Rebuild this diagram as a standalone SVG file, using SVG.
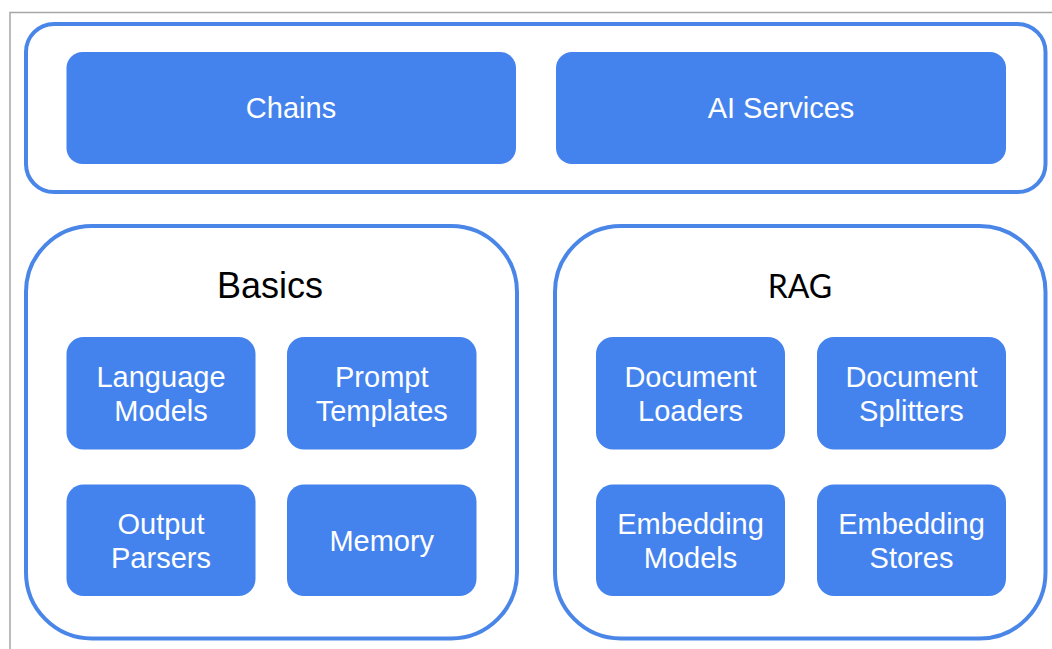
<svg xmlns="http://www.w3.org/2000/svg" width="1052" height="649" viewBox="0 0 1052 649">
  <style>
    .frame { fill: none; stroke: #a6a6a6; stroke-width: 1.5; }
    .group { fill: #ffffff; stroke: #4a86e8; stroke-width: 4; }
    .box { fill: #4483ee; stroke: none; }
    .label { font-family: "Liberation Sans", Arial, sans-serif; font-size: 29px; fill: #ffffff; text-anchor: middle; }
    .title { font-family: "Liberation Sans", Arial, sans-serif; font-size: 36px; fill: #000000; text-anchor: middle; }
    .title2 { font-family: Lato, "Liberation Sans", sans-serif; font-size: 32px; fill: #000000; text-anchor: middle; }
  </style>
  <rect width="1052" height="649" fill="#ffffff"/>
  <path class="frame" d="M10,660 L10,12.5 L1060,12.5"/>

  <g id="top-group">
    <rect class="group" x="26" y="24" width="1019.5" height="168" rx="28" ry="28"/>
  </g>
  <g id="chains">
    <rect class="box" x="66.5" y="52" width="449.5" height="112" rx="16" ry="16"/>
    <text class="label" x="291" y="117.5">Chains</text>
  </g>
  <g id="ai-services">
    <rect class="box" x="556" y="52" width="450" height="112" rx="16" ry="16"/>
    <text class="label" x="781" y="117.5">AI Services</text>
  </g>

  <g id="basics">
    <rect class="group" x="26" y="226" width="491" height="412.5" rx="66" ry="66"/>
    <text class="title" x="270" y="298">Basics</text>
  </g>
  <g id="language-models">
    <rect class="box" x="66.5" y="337" width="189" height="112.5" rx="17" ry="17"/>
    <text class="label" x="161" y="386.5">Language</text>
    <text class="label" x="161" y="420.5">Models</text>
  </g>
  <g id="prompt-templates">
    <rect class="box" x="287" y="337" width="189.5" height="112.5" rx="17" ry="17"/>
    <text class="label" x="381.75" y="386.5">Prompt</text>
    <text class="label" x="381.75" y="420.5">Templates</text>
  </g>
  <g id="output-parsers">
    <rect class="box" x="66.5" y="484.5" width="189" height="111.5" rx="17" ry="17"/>
    <text class="label" x="161" y="533.5">Output</text>
    <text class="label" x="161" y="567.5">Parsers</text>
  </g>
  <g id="memory">
    <rect class="box" x="287" y="484.5" width="189.5" height="111.5" rx="17" ry="17"/>
    <text class="label" x="381.75" y="550.5">Memory</text>
  </g>

  <g id="rag">
    <rect class="group" x="555" y="226" width="490.5" height="412.5" rx="66" ry="66"/>
    <text class="title2" x="800" y="298">RAG</text>
  </g>
  <g id="document-loaders">
    <rect class="box" x="596" y="337" width="189" height="112.5" rx="17" ry="17"/>
    <text class="label" x="690.5" y="386.5">Document</text>
    <text class="label" x="690.5" y="420.5">Loaders</text>
  </g>
  <g id="document-splitters">
    <rect class="box" x="817" y="337" width="189" height="112.5" rx="17" ry="17"/>
    <text class="label" x="911.5" y="386.5">Document</text>
    <text class="label" x="911.5" y="420.5">Splitters</text>
  </g>
  <g id="embedding-models">
    <rect class="box" x="596" y="484.5" width="189" height="111.5" rx="17" ry="17"/>
    <text class="label" x="690.5" y="533.5">Embedding</text>
    <text class="label" x="690.5" y="567.5">Models</text>
  </g>
  <g id="embedding-stores">
    <rect class="box" x="817" y="484.5" width="189" height="111.5" rx="17" ry="17"/>
    <text class="label" x="911.5" y="533.5">Embedding</text>
    <text class="label" x="911.5" y="567.5">Stores</text>
  </g>

  <g id="connectors"></g>
</svg>
